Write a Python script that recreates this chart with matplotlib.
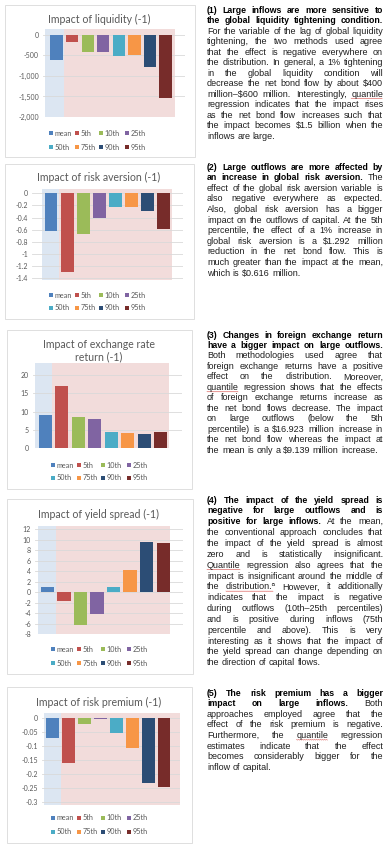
import numpy as np
import matplotlib
matplotlib.use('Agg')
import matplotlib.pyplot as plt
from matplotlib.patches import Rectangle
from matplotlib.lines import Line2D
from matplotlib.ticker import FuncFormatter

plt.rcParams['axes.unicode_minus'] = False

W, H = 388, 850

# ---- chart data ----
labels = ['mean', '5th', '10th', '25th', '50th', '75th', '90th', '95th']
colors = ['#4F81BD', '#C0504D', '#9BBB59', '#8064A2', '#4BACC6', '#F79646', '#2C4D75', '#772C2A']

liquidity = [-620, -185, -430, -430, -525, -485, -795, -1540]
risk_aversion = [-0.616, -1.292, -0.67, -0.41, -0.22, -0.22, -0.285, -0.59]
exchange_rate = [9.139, 16.923, 8.4, 8.0, 4.4, 4.0, 3.8, 4.4]
yield_spread = [0.9, -1.8, -6.2, -4.1, 1.0, 4.3, 9.5, 9.3]
risk_premium = [-0.071, -0.162, -0.022, -0.002, -0.052, -0.105, -0.23, -0.247]

titles = ['Impact of liquidity (-1)', 'Impact of risk aversion (-1)',
          'Impact of exchange rate\nreturn (-1)', 'Impact of yield spread (-1)',
          'Impact of risk premium (-1)']
yticks = [[0, -500, -1000, -1500, -2000],
          [0, -0.2, -0.4, -0.6, -0.8, -1, -1.2, -1.4],
          [0, 5, 10, 15, 20],
          [12, 10, 8, 6, 4, 2, 0, -2, -4, -6, -8],
          [0, -0.05, -0.1, -0.15, -0.2, -0.25, -0.3]]
series = [liquidity, risk_aversion, exchange_rate, yield_spread, risk_premium]

# ---- layout (pixels) ----
panels = [
    dict(box=(5, 5, 195, 157), ax=(43, 29, 185, 117), xlim=(-0.88, 8.26), ylim=(-2000, 140),
         shade=(-0.77, 0.45, 7.6), title_y=19, leg_y=(133, 147), fmt='{:,.0f}'),
    dict(box=(5, 164, 194, 319), ax=(32, 189, 183, 280), xlim=(-1.18, 8.2), ylim=(-1.43, 0.07),
         shade=(-0.56, 0.47, 7.5), title_y=177, leg_y=(295, 308), fmt='{:g}'),
    dict(box=(7, 330, 192, 489), ax=(33, 363, 182, 448), xlim=(-0.75, 8.3), ylim=(0, 23.3),
         shade=(-0.65, 0.43, 7.5), title_y=351, leg_y=(465, 478), fmt='{:g}'),
    dict(box=(7, 499, 193, 674), ax=(35, 526, 183, 634), xlim=(-0.75, 8.2), ylim=(-8, 12.6),
         shade=(-0.54, 0.5, 7.4), title_y=514, leg_y=(649, 663), fmt='{:g}'),
    dict(box=(7, 687, 192, 843), ax=(42, 713, 180, 805), xlim=(-0.68, 8.0), ylim=(-0.31, 0.018),
         shade=(-0.57, 0.53, 8.0), title_y=702, leg_y=(818, 832), fmt='{:g}'),
]
leg_cols = [51, 77, 101, 127]

gray = '#595959'
cfont = 'Lato'

fig = plt.figure(figsize=(W / 100, H / 100), dpi=100)
fig.patch.set_facecolor('white')


def fx(px):
    return px / W


def fy(py):
    return 1 - py / H


for p, vals, title, yt in zip(panels, series, titles, yticks):
    bx0, by0, bx1, by1 = p['box']
    fig.add_artist(Rectangle((fx(bx0), fy(by1)), (bx1 - bx0) / W, (by1 - by0) / H,
                             transform=fig.transFigure, facecolor='white',
                             edgecolor='#d9d9d9', lw=0.6, zorder=0))
    x0, y0, x1, y1 = p['ax']
    ax = fig.add_axes([fx(x0), fy(y1), (x1 - x0) / W, (y1 - y0) / H])
    ax.set_facecolor('none')
    a, b, c = p['shade']
    ax.axvspan(a, b, color='#DCE6F2', zorder=0.2, lw=0)
    ax.axvspan(b, c, color='#F2DCDB', zorder=0.2, lw=0)
    ax.bar(np.arange(len(vals)), vals, width=0.8, color=colors, zorder=2)
    ax.set_xlim(*p['xlim'])
    ax.set_ylim(*p['ylim'])
    ax.set_yticks(yt)
    fmt = p['fmt']
    ax.yaxis.set_major_formatter(FuncFormatter(lambda v, pos, f=fmt: f.format(v)))
    ax.set_xticks([])
    ax.grid(axis='y', color='#d9d9d9', lw=0.6, zorder=0.5)
    ax.set_axisbelow(True)
    for s in ax.spines.values():
        s.set_visible(False)
    ax.tick_params(axis='y', length=0, pad=3, labelsize=5.0, labelcolor=gray)
    for lab in ax.get_yticklabels():
        lab.set_family(cfont)
    fig.text(fx(99), fy(p['title_y']), title, ha='center', va='center', fontsize=7.6,
             color=gray, family=cfont, linespacing=1.15)
    # legend, two rows of four
    for i, (lab, col) in enumerate(zip(labels, colors)):
        row, k = divmod(i, 4)
        lx = bx0 - 5 + leg_cols[k]
        ly = p['leg_y'][row]
        fig.add_artist(Rectangle((fx(lx - 2), fy(ly + 2)), 4 / W, 4 / H,
                                 transform=fig.transFigure, facecolor=col, lw=0))
        fig.text(fx(lx + 3.5), fy(ly), lab, ha='left', va='center', fontsize=5.2,
                 color=gray, family=cfont)

# ---- text column ----
para1 = [
    ("(1) Large inflows are more sensitive to", 7),
    ("the global liquidity tightening condition.", 5),
    ("For the variable of the lag of global liquidity", 0),
    ("tightening, the two methods used agree", 0),
    ("that the effect is negative everywhere on", 0),
    ("the distribution. In general, a 1% tightening", 0),
    ("in the global liquidity condition will", 0),
    ("decrease the net bond flow by about $400", 0),
    ("million\u2013$600 million. Interestingly, quantile", 0),
    ("regression indicates that the impact rises", 0),
    ("as the net bond flow increases such that", 0),
    ("the impact becomes $1.5 billion when the", 0),
    ("inflows are large.", 0),
]
para2 = [
    ("(2) Large outflows are more affected by", 7),
    ("an increase in global risk aversion. The", 6),
    ("effect of the global risk aversion variable is", 0),
    ("also negative everywhere as expected.", 0),
    ("Also, global risk aversion has a bigger", 0),
    ("impact on the outflows of capital. At the 5th", 0),
    ("percentile, the effect of a 1% increase in", 0),
    ("global risk aversion is a $1.292 million", 0),
    ("reduction in the net bond flow. This is", 0),
    ("much greater than the impact at the mean,", 0),
    ("which is $0.616 million.", 0),
]
para3 = [
    ("(3) Changes in foreign exchange return", 6),
    ("have a bigger impact on large outflows.", 7),
    ("Both methodologies used agree that", 0),
    ("foreign exchange returns have a positive", 0),
    ("effect on the distribution. Moreover,", 0),
    ("quantile regression shows that the effects", 0),
    ("of foreign exchange returns increase as", 0),
    ("the net bond flows decrease. The impact", 0),
    ("on large outflows (below the 5th", 0),
    ("percentile) is a $16.923 million increase in", 0),
    ("the net bond flow whereas the impact at", 0),
    ("the mean is only a $9.139 million increase.", 0),
]
para4 = [
    ("(4) The impact of the yield spread is", 8),
    ("negative for large outflows and is", 6),
    ("positive for large inflows. At the mean,", 4),
    ("the conventional approach concludes that", 0),
    ("the impact of the yield spread is almost", 0),
    ("zero and is statistically insignificant.", 0),
    ("Quantile regression also agrees that the", 0),
    ("impact is insignificant around the middle of", 0),
    ("the distribution.\u1d43 However, it additionally", 0),
    ("indicates that the impact is negative", 0),
    ("during outflows (10th\u201325th percentiles)", 0),
    ("and is positive during inflows (75th", 0),
    ("percentile and above). This is very", 0),
    ("interesting as it shows that the impact of", 0),
    ("the yield spread can change depending on", 0),
    ("the direction of capital flows.", 0),
]
para5 = [
    ("(5) The risk premium has a bigger", 7),
    ("impact on large inflows. Both", 4),
    ("approaches employed agree that the", 0),
    ("effect of the risk premium is negative.", 0),
    ("Furthermore, the quantile regression", 0),
    ("estimates indicate that the effect", 0),
    ("becomes considerably bigger for the", 0),
    ("inflow of capital.", 0),
]
paragraphs = [(10, 10.5, para1), (167, 10.6, para2), (335, 10.45, para3),
              (500, 10.85, para4), (693, 10.6, para5)]

tx0, tx1 = 207, 383
tsize = 6.5
bsize = 6.3
tfam = ['Liberation Sans', 'DejaVu Sans']
space_px = 0.278 * tsize * 100 / 72

renderer = fig.canvas.get_renderer()
for y_first, step, lines in paragraphs:
    for li, (line, nb) in enumerate(lines):
        words = line.split(' ')
        texts = []
        for wi, w in enumerate(words):
            bold = wi < nb
            t = fig.text(0, 0, w, fontsize=bsize if bold else tsize, family=tfam,
                         weight='bold' if bold else 'normal',
                         color='#000000' if bold else '#1e1e1e',
                         ha='left', va='baseline')
            texts.append(t)
        widths = [t.get_window_extent(renderer).width for t in texts]
        last = li == len(lines) - 1
        if last or len(words) == 1:
            gap = space_px
        else:
            gap = (tx1 - tx0 - sum(widths)) / (len(words) - 1)
        x = tx0
        base = y_first + li * step + 2.6
        for t, w, wd in zip(texts, words, widths):
            t.set_position((fx(x), fy(base)))
            if 'uantile' in w or '\u1d43' in w:
                uw = wd if 'uantile' in w else wd - 2.5
                xs = np.arange(x, x + uw, 1.0)
                ys = base + 1.6 + 0.45 * (np.arange(len(xs)) % 2)
                fig.add_artist(Line2D(fx(xs), fy(ys), transform=fig.transFigure,
                                      color='#d9534f', lw=0.4))
            x += wd + gap

fig.savefig('out.png', dpi=100, facecolor='white')
